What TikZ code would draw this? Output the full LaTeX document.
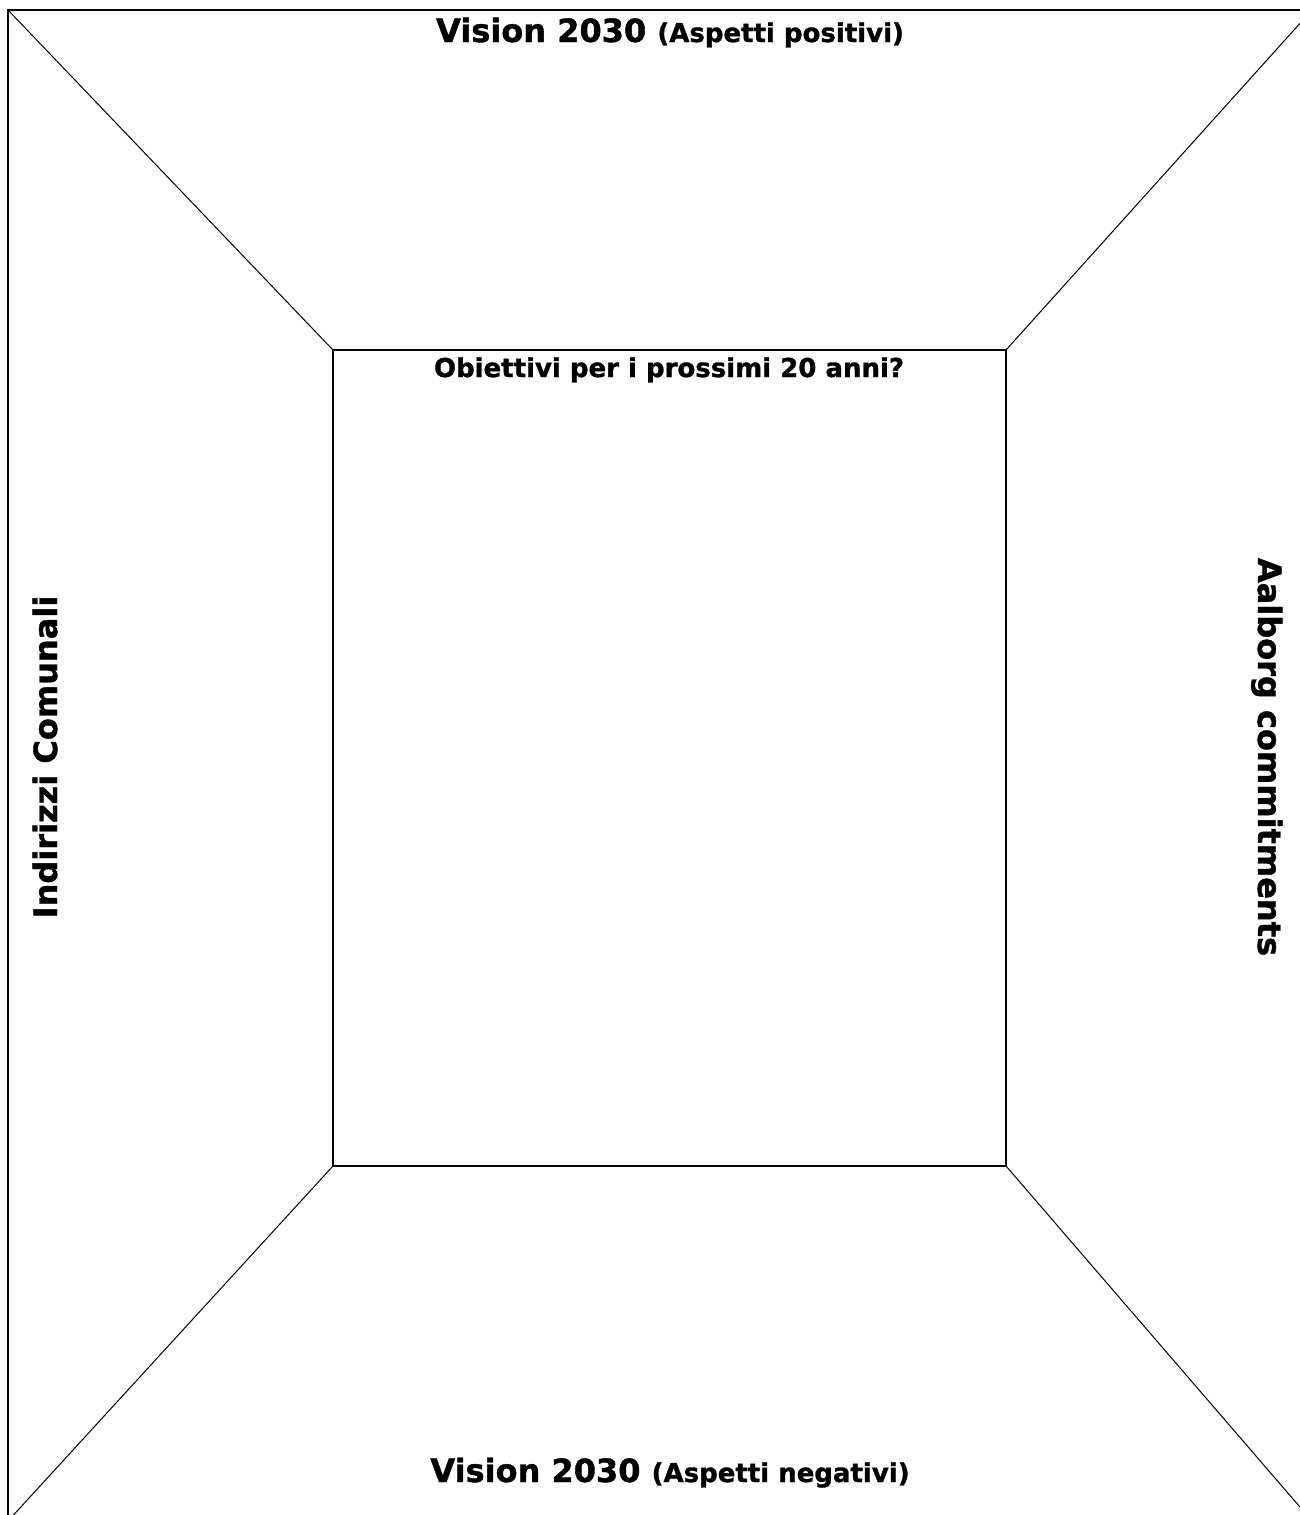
\documentclass[tikz,border=0pt]{standalone}
\usepackage{fontspec}
\setmainfont{DejaVu Sans}[BoldFeatures={FakeBold=1.2}]
\tikzset{
  heading/.style={font=\bfseries\fontsize{16}{19}\selectfont, inner sep=0pt},
  small/.style={font=\bfseries\fontsize{13}{16}\selectfont, inner sep=0pt}
}
\begin{document}
\begin{tikzpicture}[x=0.5pt,y=-0.5pt]
    \useasboundingbox (0,0) rectangle (1300,1515);
    \clip (0,0) rectangle (1300,1515);
    % frame and inner box
    \draw[line width=1.2pt] (8,10) rectangle (1312,1521);
    \draw[line width=1pt] (333,350) rectangle (1006,1166);
    % corners
    \draw[line width=0.5pt] (8,10) -- (333,350);
    \draw[line width=0.5pt] (1312,10) -- (1006,350);
    \draw[line width=0.5pt] (8,1521) -- (333,1166);
    \draw[line width=0.5pt] (1312,1521) -- (1006,1166);
    % labels
    \node[heading, anchor=base] (top) at (670,42) {Vision 2030 {\fontsize{13}{16}\selectfont(Aspetti positivi)}};
    \node[small, anchor=base] (goals) at (669,377) {Obiettivi per i prossimi 20 anni?};
    \node[heading, anchor=base] (bottom) at (670,1482) {Vision 2030 {\fontsize{13}{16}\selectfont(Aspetti negativi)}};
    \node[heading, anchor=base, rotate=90] (left) at (57,757) {Indirizzi Comunali};
    \node[heading, anchor=base, rotate=-90] (right) at (1258,757) {Aalborg commitments};
\end{tikzpicture}
\end{document}
